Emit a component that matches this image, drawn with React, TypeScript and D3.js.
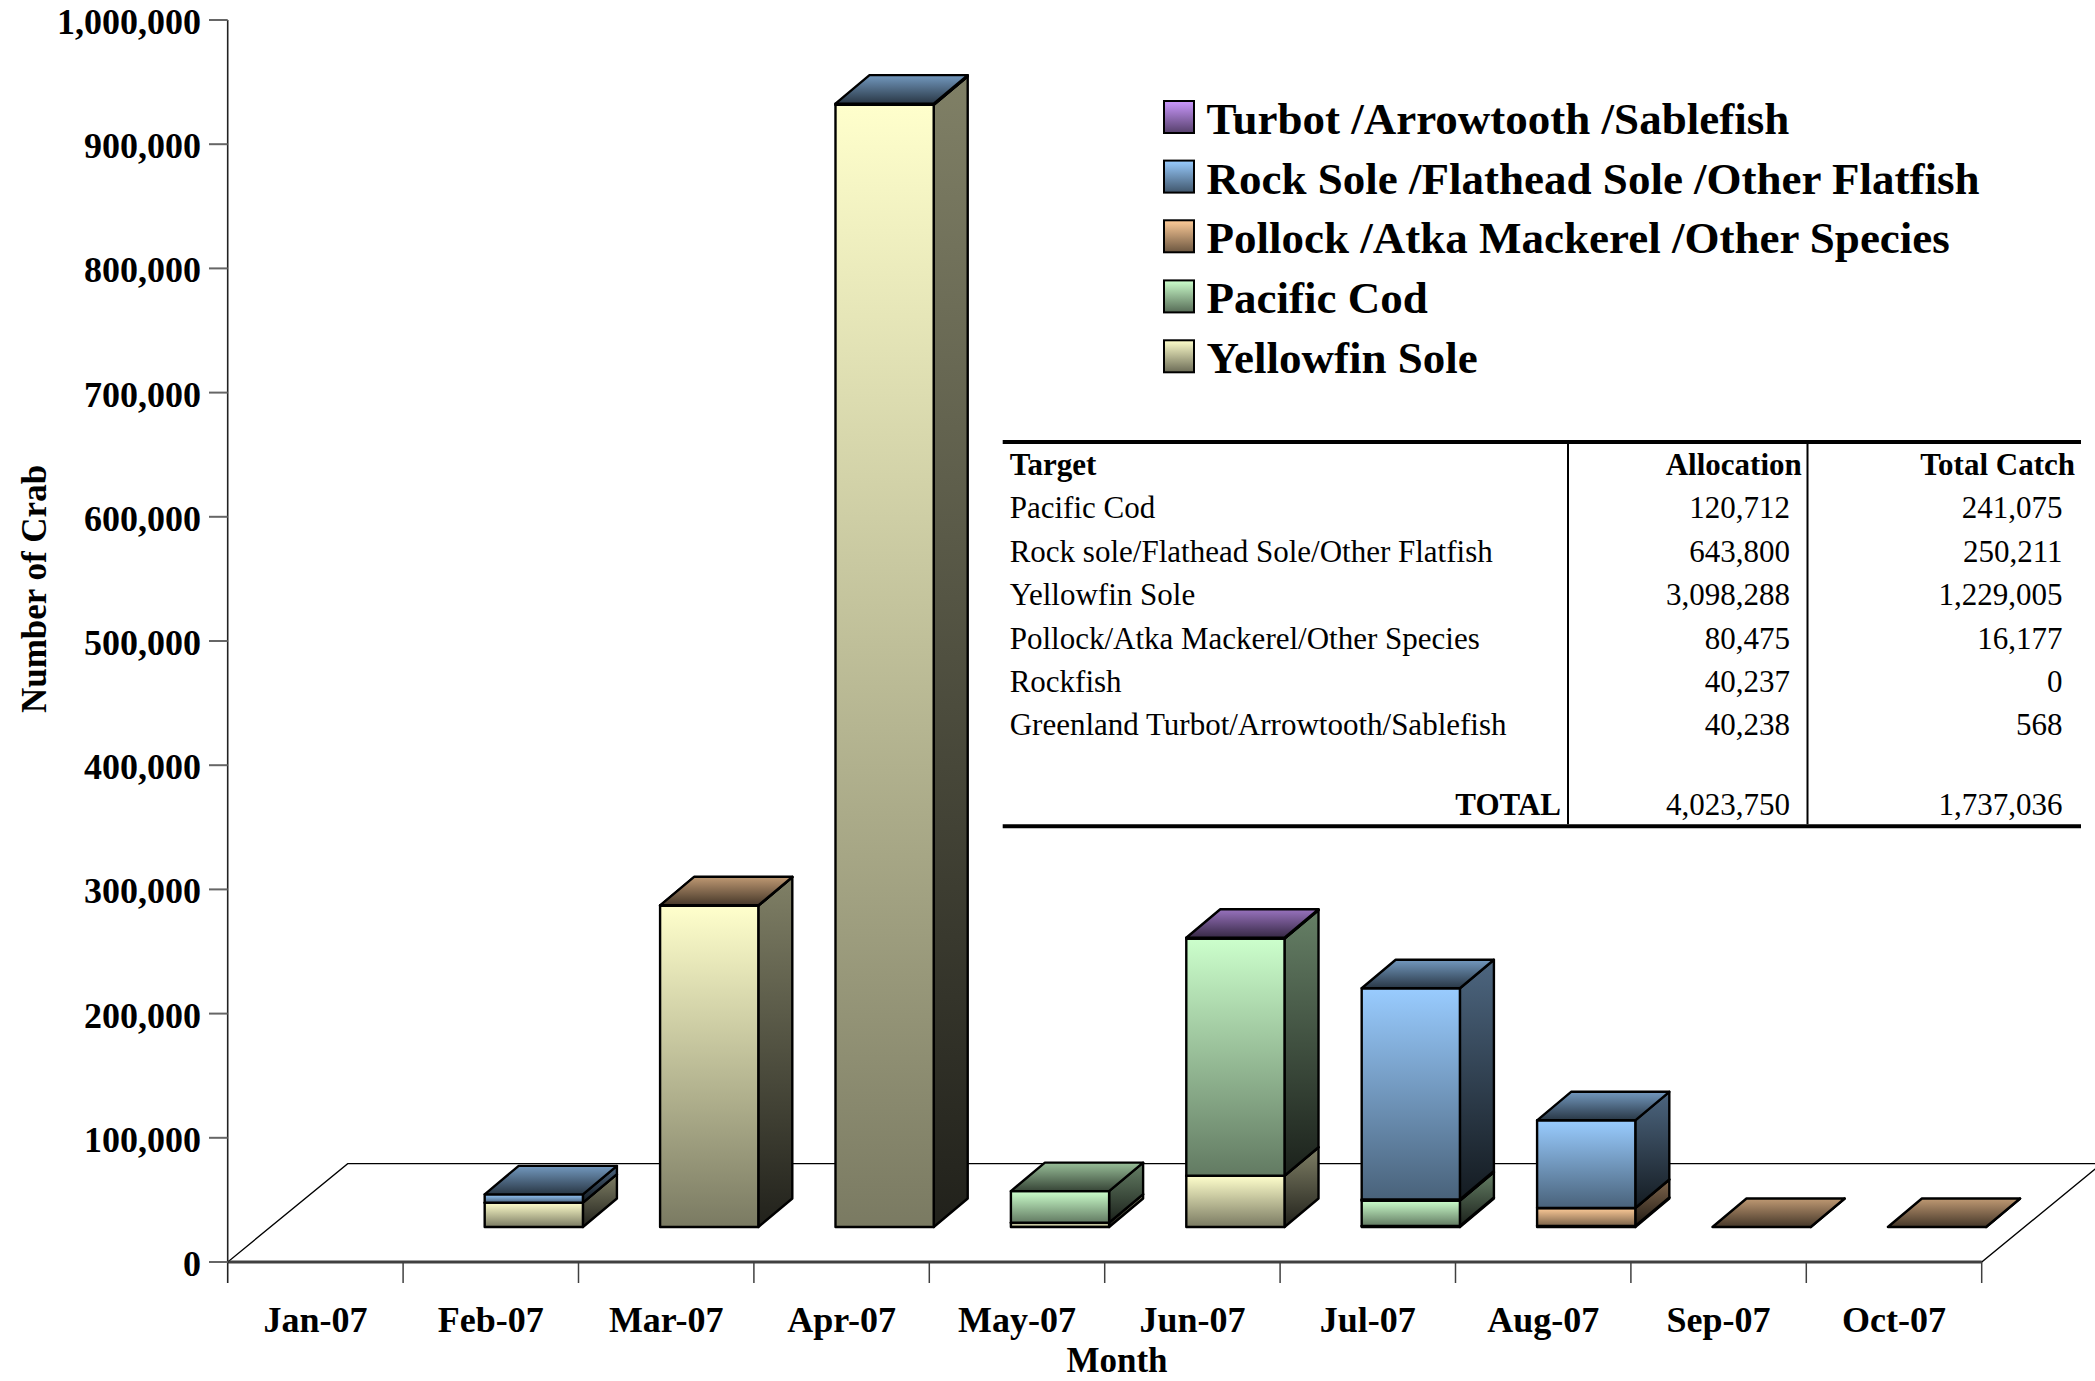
import React from "react";
import * as d3 from "d3";

const MONTHS = ["Jan-07", "Feb-07", "Mar-07", "Apr-07", "May-07", "Jun-07", "Jul-07", "Aug-07", "Sep-07", "Oct-07"];

// stacked bottom -> top
const YELLOWFIN: (number | null)[] = [null, 19600, 258700, 903500, 3500, 41300, 800, 800, null, null];
const PACIFIC_COD: (number | null)[] = [null, null, null, null, 25400, 191000, 20400, null, null, null];
const POLLOCK: (number | null)[] = [null, null, 300, null, null, null, 1000, 14500, 0, 0];
const ROCK_SOLE: (number | null)[] = [null, 6700, null, 1000, null, null, 170000, 70600, null, null];
const TURBOT: (number | null)[] = [null, null, null, null, null, 600, null, null, null, null];

const SERIES_NAMES = [
  "Yellowfin Sole",
  "Pacific Cod",
  "Pollock /Atka Mackerel /Other Species",
  "Rock Sole /Flathead Sole /Other Flatfish",
  "Turbot /Arrowtooth /Sablefish",
];
const SERIES_DATA = [YELLOWFIN, PACIFIC_COD, POLLOCK, ROCK_SOLE, TURBOT];
const SERIES_COLORS = ["#FFFFCC", "#CCFFCC", "#FFCC99", "#99CCFF", "#CC99FF"];

const Y_TICKS = [0, 100000, 200000, 300000, 400000, 500000, 600000, 700000, 800000, 900000, 1000000];

const TABLE_TARGETS = [
  "Pacific Cod",
  "Rock sole/Flathead Sole/Other Flatfish",
  "Yellowfin Sole",
  "Pollock/Atka Mackerel/Other Species",
  "Rockfish",
  "Greenland Turbot/Arrowtooth/Sablefish",
];
const TABLE_ALLOCATION = ["120,712", "643,800", "3,098,288", "80,475", "40,237", "40,238"];
const TABLE_CATCH = ["241,075", "250,211", "1,229,005", "16,177", "0", "568"];
const TABLE_TOTAL = ["4,023,750", "1,737,036"];

const FONT = "'Liberation Serif', 'Times New Roman', serif";

function shade(c: string, k: number) {
  const r = d3.rgb(c);
  return d3.rgb(r.r * k, r.g * k, r.b * k).formatHex();
}

export default function App() {
  const W = 2095;
  const H = 1381;
  const x = d3.scaleBand<string>().domain(MONTHS).range([227.7, 1981.7]).paddingInner(0).paddingOuter(0);
  const y = d3.scaleLinear().domain([0, 1000000]).range([1262, 20]);
  const bw = x.bandwidth();
  const barW = bw * 0.56;
  const shiftX = 43;
  const shiftY = -35;
  const depthX = 34;
  const depthY = -28.5;
  const floorDX = 120;
  const floorDY = -98.3;
  const x0 = 227.7;
  const x1 = 1981.7;
  const y0 = y(0);

  const rows = MONTHS.map((m, i) => {
    const o: any = { month: m };
    SERIES_NAMES.forEach((s, j) => (o[s] = SERIES_DATA[j][i] ?? 0));
    return o;
  });
  const stacked = d3.stack<any>().keys(SERIES_NAMES)(rows);

  const boxes: JSX.Element[] = [];
  MONTHS.forEach((m, i) => {
    stacked.forEach((layer, j) => {
      const raw = SERIES_DATA[j][i];
      if (raw === null || raw === undefined) return;
      const [v0, v1] = layer[i];
      const bx0 = (x(m) as number) + (bw - barW) / 2 + shiftX;
      const bx1 = bx0 + barW;
      const yt = y(v1) + shiftY;
      const yb = y(v0) + shiftY;
      const side = `${bx1},${yb} ${bx1 + depthX},${yb + depthY} ${bx1 + depthX},${yt + depthY} ${bx1},${yt}`;
      const top = `${bx0},${yt} ${bx1},${yt} ${bx1 + depthX},${yt + depthY} ${bx0 + depthX},${yt + depthY}`;
      boxes.push(
        <g key={`${i}-${j}`} stroke="#000" strokeWidth={2.4} strokeLinejoin="round">
          <polygon points={side} fill={`url(#side${j})`} />
          <rect x={bx0} y={yt} width={barW} height={Math.max(0, yb - yt)} fill={`url(#front${j})`} />
          <polygon points={top} fill={`url(#top${j})`} />
        </g>
      );
    });
  });

  const legendOrder = [4, 3, 2, 1, 0];
  const legendBase = [134, 193.6, 253.3, 313.4, 373.3];

  const rowBase = [518.3, 561.7, 605, 649.3, 691.7, 735];

  return (
    <svg
      width={W}
      height={H}
      viewBox={`0 0 ${W} ${H}`}
      style={{ position: "absolute", left: 0, top: 0, display: "block", background: "#fff" }}
      fontFamily={FONT}
    >
      <defs>
        {SERIES_COLORS.map((c, j) => (
          <React.Fragment key={j}>
            <linearGradient id={`front${j}`} x1="0" y1="0" x2="0" y2="1">
              <stop offset="0" stopColor={c} />
              <stop offset="1" stopColor={shade(c, 0.48)} />
            </linearGradient>
            <linearGradient id={`side${j}`} x1="0" y1="0" x2="0" y2="1">
              <stop offset="0" stopColor={shade(c, 0.5)} />
              <stop offset="1" stopColor={shade(c, 0.13)} />
            </linearGradient>
            <linearGradient id={`top${j}`} x1="0" y1="0" x2="0" y2="1">
              <stop offset="0" stopColor={shade(c, 0.75)} />
              <stop offset="1" stopColor={shade(c, 0.27)} />
            </linearGradient>
            <linearGradient id={`leg${j}`} x1="0" y1="0" x2="0" y2="1">
              <stop offset="0" stopColor={c} />
              <stop offset="1" stopColor={shade(c, 0.42)} />
            </linearGradient>
          </React.Fragment>
        ))}
      </defs>

      {/* floor */}
      <polygon
        points={`${x0},${y0} ${x1},${y0} ${x1 + floorDX},${y0 + floorDY} ${x0 + floorDX},${y0 + floorDY}`}
        fill="#fff"
        stroke="#000"
        strokeWidth={1.3}
      />
      <line x1={x0} y1={y0} x2={x1} y2={y0} stroke="#404040" strokeWidth={3} />

      {/* y axis */}
      <line x1={x0} y1={y(1000000)} x2={x0} y2={1283} stroke="#222" strokeWidth={1.6} />
      {Y_TICKS.map((t) => (
        <g key={t}>
          <line x1={209} x2={x0} y1={y(t)} y2={y(t)} stroke="#666" strokeWidth={2} />
          <text x={201} y={y(t) + 14} textAnchor="end" fontSize={36} fontWeight="bold">
            {d3.format(",")(t)}
          </text>
        </g>
      ))}

      {/* category ticks & labels */}
      {MONTHS.map((m, i) => (
        <g key={m}>
          {i > 0 && <line x1={x(m)} x2={x(m)} y1={y0} y2={1283} stroke="#404040" strokeWidth={1.5} />}
          <text x={(x(m) as number) + bw / 2} y={1331.7} textAnchor="middle" fontSize={36} fontWeight="bold">
            {m}
          </text>
        </g>
      ))}
      <line x1={x1} x2={x1} y1={y0} y2={1283} stroke="#404040" strokeWidth={1.5} />

      <text x={1117} y={1372} textAnchor="middle" fontSize={35} fontWeight="bold">
        Month
      </text>
      <text transform="translate(46,589) rotate(-90)" textAnchor="middle" fontSize={35} fontWeight="bold">
        Number of Crab
      </text>

      {/* bars */}
      {boxes}

      {/* legend */}
      {legendOrder.map((j, k) => (
        <g key={j}>
          <rect
            x={1164}
            y={legendBase[k] - 33}
            width={30}
            height={32}
            fill={`url(#leg${j})`}
            stroke="#000"
            strokeWidth={2}
          />
          <text x={1206.6} y={legendBase[k]} fontSize={45} fontWeight="bold">
            {SERIES_NAMES[j]}
          </text>
        </g>
      ))}

      {/* table */}
      <g fontSize={31}>
        <line x1={1002.7} x2={2081} y1={442} y2={442} stroke="#000" strokeWidth={4} />
        <line x1={1002.7} x2={2081} y1={826.3} y2={826.3} stroke="#000" strokeWidth={4} />
        <line x1={1568} x2={1568} y1={444} y2={824.3} stroke="#000" strokeWidth={2} />
        <line x1={1807.5} x2={1807.5} y1={444} y2={824.3} stroke="#000" strokeWidth={2} />
        <text x={1009.7} y={474.5} fontWeight="bold">
          Target
        </text>
        <text x={1801.8} y={474.5} fontWeight="bold" textAnchor="end">
          Allocation
        </text>
        <text x={2075} y={474.5} fontWeight="bold" textAnchor="end">
          Total Catch
        </text>
        {TABLE_TARGETS.map((t, i) => (
          <g key={t}>
            <text x={1009.7} y={rowBase[i]}>
              {t}
            </text>
            <text x={1789.9} y={rowBase[i]} textAnchor="end">
              {TABLE_ALLOCATION[i]}
            </text>
            <text x={2062.6} y={rowBase[i]} textAnchor="end">
              {TABLE_CATCH[i]}
            </text>
          </g>
        ))}
        <text x={1561} y={815} fontWeight="bold" textAnchor="end">
          TOTAL
        </text>
        <text x={1789.9} y={815} textAnchor="end">
          {TABLE_TOTAL[0]}
        </text>
        <text x={2062.6} y={815} textAnchor="end">
          {TABLE_TOTAL[1]}
        </text>
      </g>
    </svg>
  );
}
